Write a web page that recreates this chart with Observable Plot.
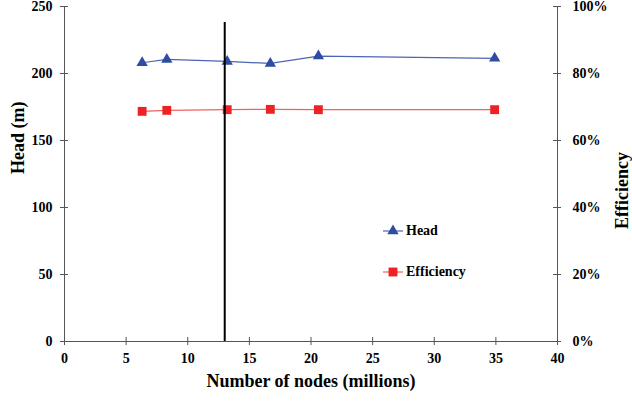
<!DOCTYPE html>
<html>
<head>
<meta charset="utf-8">
<script src="https://cdn.jsdelivr.net/npm/d3@7"></script>
<script src="https://cdn.jsdelivr.net/npm/@observablehq/plot@0.6"></script>
<style>
  body { margin: 0; background: #fff; }
  #wrap { position: relative; width: 632px; height: 403px; font-family: "Liberation Serif", "DejaVu Serif", serif; }
  #wrap svg text { font-family: "Liberation Serif", "DejaVu Serif", serif; }
  .legend { position: absolute; font-weight: bold; font-size: 14px; color: #000; display: flex; align-items: center; font-family: "Liberation Serif", "DejaVu Serif", serif; }
  .legend svg { margin-right: 3px; }
</style>
</head>
<body>
<div id="wrap"></div>
<script>
const nodes = [6.3, 8.3, 13.2, 16.7, 20.6, 34.9];
const head = [208, 210.5, 209, 207.5, 213, 211.3];
const efficiency = [0.687, 0.690, 0.692, 0.693, 0.692, 0.692];
const xTicks = [0, 5, 10, 15, 20, 25, 30, 35, 40];
const headTicks = [0, 50, 100, 150, 200, 250];
const effTicks = [0, 0.2, 0.4, 0.6, 0.8, 1.0];
const markerLine = {x: 13, top: 238};

const headData = nodes.map((n, i) => ({n, v: head[i]}));
const effData = nodes.map((n, i) => ({n, v: efficiency[i] * 250}));

const blue = "#2F4CA0", blueLine = "#4C64B4";
const red = "#EE2222", redLine = "#F06262";
const axisColor = "#555";

const chart = Plot.plot({
  width: 632, height: 403,
  marginLeft: 64, marginRight: 75, marginTop: 6, marginBottom: 62,
  x: {domain: [0, 40]},
  y: {domain: [0, 250]},
  style: "font-family: 'Liberation Serif', 'DejaVu Serif', serif; font-weight: bold; font-size: 14px; color: #000; background: #fff;",
  marks: [
    Plot.ruleX([0, 40], {y1: 0, y2: 250, stroke: axisColor}),
    Plot.ruleY([0], {x1: 0, x2: 40, stroke: axisColor}),
    Plot.ruleY(headTicks, {y: d => d, x1: 0, x2: 0, insetLeft: -4, insetRight: -4, stroke: axisColor}),
    Plot.ruleY(effTicks, {y: d => d * 250, x1: 40, x2: 40, insetLeft: -4, insetRight: -4, stroke: axisColor}),
    Plot.ruleX(xTicks, {x: d => d, y1: 0, y2: 0, insetTop: -4, insetBottom: -4, stroke: axisColor}),
    Plot.axisY(headTicks, {anchor: "left", tickSize: 0, tickPadding: 12, label: null, fontSize: 14}),
    Plot.axisY(effTicks.map(d => d * 250), {anchor: "right", tickSize: 0, tickPadding: 15, label: null, fontSize: 14, tickFormat: d => Math.round(d / 2.5) + "%"}),
    Plot.axisX(xTicks, {anchor: "bottom", tickSize: 0, tickPadding: 12, label: null, fontSize: 14}),
    Plot.text(["Head (m)"], {frameAnchor: "left", dx: -46, rotate: -90, fontSize: 18, fontWeight: "bold"}),
    Plot.text(["Efficiency"], {frameAnchor: "right", dx: 65, dy: -22, rotate: -90, fontSize: 18, fontWeight: "bold"}),
    Plot.text(["Number of nodes (millions)"], {frameAnchor: "bottom", dy: 45, fontSize: 18, fontWeight: "bold"}),
    Plot.line(headData, {x: "n", y: "v", stroke: blueLine, strokeWidth: 1.2}),
    Plot.dot(headData, {x: "n", y: "v", symbol: "triangle", r: 4.2, fill: blue, stroke: "none"}),
    Plot.line(effData, {x: "n", y: "v", stroke: redLine, strokeWidth: 1.2}),
    Plot.dot(effData, {x: "n", y: "v", symbol: "square", r: 5, fill: red, stroke: "none"}),
    Plot.ruleX([markerLine], {x: "x", y1: 0, y2: "top", stroke: "#000", strokeWidth: 2})
  ]
});
const wrap = document.getElementById("wrap");
wrap.appendChild(chart);

function legendItem(label, symbol, color, lineColor, left, top) {
  const div = document.createElement("div");
  div.className = "legend";
  div.style.left = left + "px";
  div.style.top = top + "px";
  const s = d3.create("svg").attr("width", 20).attr("height", 14);
  s.append("line").attr("x1", 0).attr("x2", 20).attr("y1", 7).attr("y2", 7).attr("stroke", lineColor).attr("stroke-width", 1.2);
  s.append("path").attr("transform", "translate(10,7)").attr("d", d3.symbol(symbol, symbol === d3.symbolSquare ? 78 : 56)()).attr("fill", color);
  div.appendChild(s.node());
  const t = document.createElement("span");
  t.textContent = label;
  div.appendChild(t);
  wrap.appendChild(div);
}
legendItem("Head", d3.symbolTriangle, blue, blueLine, 383, 223);
legendItem("Efficiency", d3.symbolSquare, red, redLine, 383, 264);
</script>
</body>
</html>
